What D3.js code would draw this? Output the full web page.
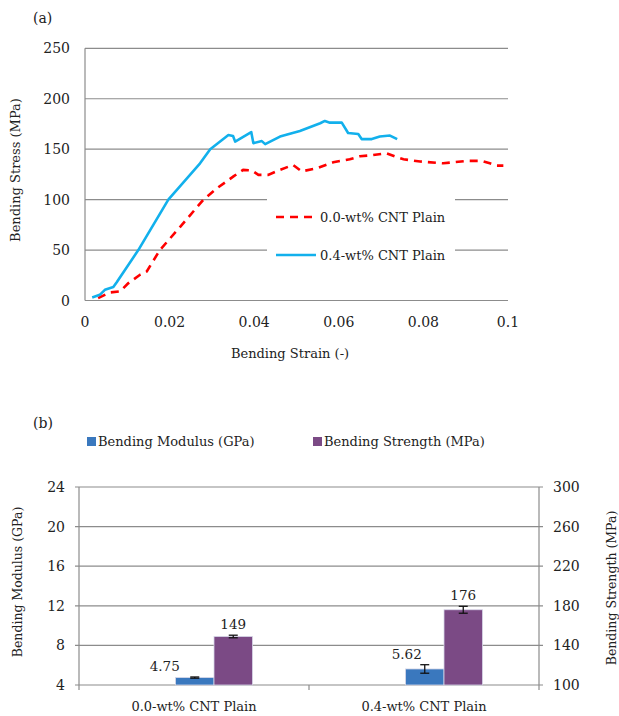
<!DOCTYPE html>
<html>
<head>
<meta charset="utf-8">
<script src="https://cdn.jsdelivr.net/npm/d3@7"></script>
<style>
  body { margin: 0; background: #fff; }
  text { font-family: 'DejaVu Serif', 'Liberation Serif', serif; fill: #222; }
</style>
</head>
<body>
<div id="chart"></div>
<script>
// (a) stress-strain curves
const plainStrain = [0.0031, 0.0059, 0.0083, 0.0102, 0.013, 0.0146, 0.0177, 0.0225, 0.028, 0.0311, 0.0351, 0.0374, 0.0394, 0.041, 0.0433, 0.0461, 0.0492, 0.0512, 0.0548, 0.0587, 0.0626, 0.065, 0.0678, 0.0712, 0.0733, 0.0753, 0.0792, 0.0847, 0.0902, 0.0938, 0.0957, 0.0973, 0.0989];
const plainStress = [2.4, 8, 9, 17, 25.5, 28.8, 50, 73, 100, 111, 123, 129.5, 129, 124.5, 124.5, 129.5, 134.4, 128, 131, 137, 140, 143, 144, 146, 142.7, 140, 137.8, 136, 138.4, 138.4, 136, 133.7, 133.7];
const cntStrain = [0.0017, 0.0035, 0.0047, 0.0067, 0.0075, 0.0126, 0.0197, 0.0272, 0.0296, 0.0339, 0.035, 0.0355, 0.0393, 0.0398, 0.0418, 0.0426, 0.0461, 0.0508, 0.0556, 0.0567, 0.0579, 0.0607, 0.0622, 0.0646, 0.0654, 0.0678, 0.0697, 0.0721, 0.0738];
const cntStress = [3, 5.6, 10.6, 13.3, 18, 50, 100, 136, 150, 164, 163, 157.5, 167, 156, 158, 155, 162.5, 168, 175.7, 178, 176.3, 176.3, 166, 165, 160, 160, 162.5, 163.5, 160];
const seriesNames = ['0.0-wt% CNT Plain', '0.4-wt% CNT Plain'];
const strainTicks = [0, 0.02, 0.04, 0.06, 0.08, 0.1];
const stressTicks = [0, 50, 100, 150, 200, 250];

// (b) bar chart
const categories = ['0.0-wt% CNT Plain', '0.4-wt% CNT Plain'];
const modulus = [4.75, 5.62];
const modulusErr = [0.06, 0.43];
const strength = [149, 176];
const strengthErr = [1.3, 3.5];
const barNames = ['Bending Modulus (GPa)', 'Bending Strength (MPa)'];
const modulusTicks = [4, 8, 12, 16, 20, 24];
const strengthTicks = [100, 140, 180, 220, 260, 300];

const W = 619, H = 716;
const svg = d3.select('#chart').append('svg').attr('width', W).attr('height', H);
const grid = '#8c8c8c';

// ---------- chart (a) ----------
const xA = d3.scaleLinear().domain([0, 0.1]).range([85, 508]);
const yA = d3.scaleLinear().domain([0, 250]).range([300.5, 48.3]);

svg.append('text').attr('x', 33).attr('y', 23).style('font-size', '14px').text('(a)');

svg.append('g').selectAll('line').data(stressTicks).enter().append('line')
  .attr('x1', 85).attr('x2', 508)
  .attr('y1', d => yA(d)).attr('y2', d => yA(d))
  .attr('stroke', grid).attr('stroke-width', 1.2);
svg.append('line').attr('x1', 85).attr('x2', 85).attr('y1', yA(250)).attr('y2', yA(0))
  .attr('stroke', grid).attr('stroke-width', 1.2);

svg.append('g').selectAll('text').data(stressTicks).enter().append('text')
  .attr('x', 70).attr('y', d => yA(d) + 5).attr('text-anchor', 'end')
  .style('font-size', '14px').text(d => d);
svg.append('g').selectAll('text').data(strainTicks).enter().append('text')
  .attr('x', d => xA(d)).attr('y', 327).attr('text-anchor', 'middle')
  .style('font-size', '14px').text(d => d);

svg.append('text').attr('x', 290).attr('y', 358).attr('text-anchor', 'middle')
  .style('font-size', '13px').text('Bending Strain (-)');
svg.append('text').attr('transform', 'translate(20,170) rotate(-90)').attr('text-anchor', 'middle')
  .style('font-size', '13px').text('Bending Stress (MPa)');

const lineA = d3.line().x(d => xA(d[0])).y(d => yA(d[1]));
const plainPts = d3.zip(plainStrain, plainStress);
const cntPts = d3.zip(cntStrain, cntStress);

// legend box hides grid behind
svg.append('rect').attr('x', 267).attr('y', 185).attr('width', 188).attr('height', 88).attr('fill', '#fff');

svg.append('path').attr('d', lineA(plainPts)).attr('fill', 'none')
  .attr('stroke', '#ff0000').attr('stroke-width', 2.6).attr('stroke-dasharray', '8,6');
svg.append('path').attr('d', lineA(cntPts)).attr('fill', 'none')
  .attr('stroke', '#12b0ec').attr('stroke-width', 2.6).attr('stroke-linejoin', 'round');

const legA = [{ name: seriesNames[0], color: '#ff0000', dash: '8,6', y: 217 },
              { name: seriesNames[1], color: '#12b0ec', dash: null, y: 255 }];
legA.forEach(l => {
  svg.append('line').attr('x1', 276).attr('x2', 316).attr('y1', l.y).attr('y2', l.y)
    .attr('stroke', l.color).attr('stroke-width', 2.6).attr('stroke-dasharray', l.dash);
  svg.append('text').attr('x', 320).attr('y', l.y + 5).style('font-size', '13px').text(l.name);
});

// ---------- chart (b) ----------
const x0 = d3.scaleBand().domain(categories).range([79, 539]);
const x1 = d3.scaleBand().domain([0, 1]).range([0, 77]);
const yL = d3.scaleLinear().domain([4, 24]).range([685, 487]);
const yR = d3.scaleLinear().domain([100, 300]).range([685, 487]);

svg.append('text').attr('x', 33).attr('y', 428).style('font-size', '14px').text('(b)');

const legB = [{ name: barNames[0], color: '#3a78be', x: 87 }, { name: barNames[1], color: '#7b4a85', x: 313 }];
legB.forEach(l => {
  svg.append('rect').attr('x', l.x).attr('y', 437).attr('width', 9).attr('height', 9).attr('fill', l.color);
  svg.append('text').attr('x', l.x + 11).attr('y', 446).style('font-size', '13px').text(l.name);
});

svg.append('g').selectAll('line').data(modulusTicks).enter().append('line')
  .attr('x1', 75).attr('x2', 543)
  .attr('y1', d => yL(d)).attr('y2', d => yL(d))
  .attr('stroke', grid).attr('stroke-width', 1.2);
svg.append('line').attr('x1', 79).attr('x2', 79).attr('y1', 487).attr('y2', 685).attr('stroke', grid).attr('stroke-width', 1.2);
svg.append('line').attr('x1', 539).attr('x2', 539).attr('y1', 487).attr('y2', 685).attr('stroke', grid).attr('stroke-width', 1.2);
svg.append('g').selectAll('line').data([79, 309, 539]).enter().append('line')
  .attr('x1', d => d).attr('x2', d => d).attr('y1', 685).attr('y2', 690)
  .attr('stroke', grid).attr('stroke-width', 1.2);

svg.append('g').selectAll('text').data(modulusTicks).enter().append('text')
  .attr('x', 65).attr('y', d => yL(d) + 5).attr('text-anchor', 'end')
  .style('font-size', '14px').text(d => d);
svg.append('g').selectAll('text').data(strengthTicks).enter().append('text')
  .attr('x', 553).attr('y', d => yR(d) + 5)
  .style('font-size', '14px').text(d => d);

svg.append('text').attr('transform', 'translate(22,582) rotate(-90)').attr('text-anchor', 'middle')
  .style('font-size', '12.5px').text('Bending Modulus (GPa)');
svg.append('text').attr('transform', 'translate(616,588) rotate(-90)').attr('text-anchor', 'middle')
  .style('font-size', '12.5px').text('Bending Strength  (MPa)');

svg.append('g').selectAll('text').data(categories).enter().append('text')
  .attr('x', d => x0(d) + x0.bandwidth() / 2).attr('y', 711).attr('text-anchor', 'middle')
  .style('font-size', '13px').text(d => d);

const bars = [];
categories.forEach((c, i) => {
  bars.push({ c, k: 0, v: modulus[i], e: modulusErr[i], y: yL, color: '#3a78be', label: modulus[i].toFixed(2), dx: i === 0 ? -30 : -18 });
  bars.push({ c, k: 1, v: strength[i], e: strengthErr[i], y: yR, color: '#7b4a85', label: String(strength[i]), dx: 0 });
});
// Excel offsets the pair to the right of the category centre
const bx = d => x0(d.c) + x0.bandwidth() / 2 - 18.5 + x1(d.k);

svg.append('g').selectAll('rect').data(bars).enter().append('rect')
  .attr('x', bx).attr('width', x1.bandwidth())
  .attr('y', d => d.y(d.v)).attr('height', d => d.y.range()[0] - d.y(d.v))
  .attr('fill', d => d.color).attr('stroke', '#d8d8e8').attr('stroke-width', 0.8);

const eb = svg.append('g').attr('stroke', '#111').attr('stroke-width', 1.3);
bars.forEach(d => {
  const cx = bx(d) + x1.bandwidth() / 2;
  const t = d.y(d.v + d.e), b = d.y(d.v - d.e);
  eb.append('line').attr('x1', cx).attr('x2', cx).attr('y1', t).attr('y2', b);
  eb.append('line').attr('x1', cx - 4.5).attr('x2', cx + 4.5).attr('y1', t).attr('y2', t);
  eb.append('line').attr('x1', cx - 4.5).attr('x2', cx + 4.5).attr('y1', b).attr('y2', b);
});

svg.append('g').selectAll('text').data(bars).enter().append('text')
  .attr('x', d => bx(d) + x1.bandwidth() / 2 + d.dx)
  .attr('y', d => Math.min(d.y(d.v + d.e), d.y(d.v)) - 6)
  .attr('text-anchor', 'middle').style('font-size', '13.5px').text(d => d.label);
</script>
</body>
</html>
